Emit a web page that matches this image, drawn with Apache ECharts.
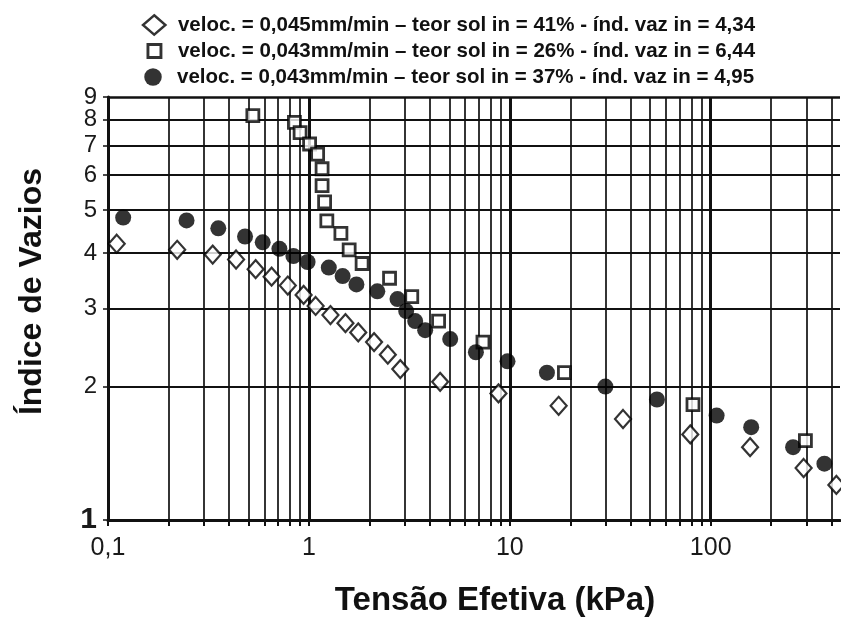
<!DOCTYPE html>
<html>
<head>
<meta charset="utf-8">
<script src="https://cdn.jsdelivr.net/npm/echarts@6/dist/echarts.min.js"></script>
<style>
  html, body { margin: 0; padding: 0; background: #fff; }
  #chart { width: 841px; height: 622px; }
</style>
</head>
<body>
<div id="chart"></div>
<script>
// Índice de vazios versus tensão efetiva (escala log-log)
const seriesNames = [
  'veloc. = 0,045mm/min – teor sol in = 41% - índ. vaz in = 4,34',
  'veloc. = 0,043mm/min – teor sol in = 26% - índ. vaz in = 6,44',
  'veloc. = 0,043mm/min – teor sol in = 37% - índ. vaz in = 4,95'
];

// Ensaio 1 (losangos)
const tensao1 = [0.1105, 0.221, 0.332, 0.434, 0.543, 0.652, 0.785, 0.941, 1.08, 1.28, 1.52, 1.76,
  2.11, 2.47, 2.85, 4.50, 8.78, 17.5, 36.6, 79.1, 157, 290, 422];
const vazios1 = [4.20, 4.07, 3.97, 3.87, 3.68, 3.54, 3.38, 3.22, 3.04, 2.90, 2.78, 2.65,
  2.52, 2.36, 2.19, 2.05, 1.93, 1.81, 1.69, 1.56, 1.46, 1.31, 1.20];

// Ensaio 2 (quadrados)
const tensao2 = [0.526, 0.847, 0.904, 1.008, 1.105, 1.163, 1.163, 1.197, 1.228, 1.443, 1.586, 1.84,
  2.52, 3.25, 4.42, 7.35, 18.7, 81.6, 296];
const vazios2 = [8.17, 7.89, 7.48, 7.05, 6.69, 6.20, 5.68, 5.22, 4.73, 4.43, 4.07, 3.79,
  3.51, 3.19, 2.81, 2.52, 2.15, 1.82, 1.51];

// Ensaio 3 (círculos)
const tensao3 = [0.119, 0.246, 0.354, 0.481, 0.589, 0.713, 0.837, 0.985, 1.256, 1.472, 1.724, 2.19,
  2.76, 3.05, 3.38, 3.79, 5.05, 6.78, 9.74, 15.3, 29.9, 54.0, 107, 159, 257, 368];
const vazios3 = [4.81, 4.74, 4.55, 4.36, 4.23, 4.09, 3.94, 3.82, 3.71, 3.55, 3.40, 3.28,
  3.15, 2.96, 2.81, 2.68, 2.56, 2.39, 2.28, 2.15, 2.00, 1.87, 1.72, 1.62, 1.46, 1.34];

// Rótulos do eixo vertical e linhas da grade
const yTicks = [1, 2, 3, 4, 5, 6, 7, 8, 9];
const xDecades = [0.1, 1, 10, 100];
const xMultipliers = [1, 2, 3, 4, 5, 6, 7, 8, 9];
const X_MIN = 0.1, X_MAX = 440;

const FONT = "'Liberation Sans', Arial, Helvetica, sans-serif";

const pairs = (xs, ys) => xs.map((x, i) => [x, ys[i]]);

// posições das divisões do eixo horizontal (1 a 9 em cada década)
const xGridValues = [];
xDecades.forEach(d => {
  xMultipliers.forEach(m => {
    const v = +(d * m).toPrecision(6);
    if (v >= X_MIN && v <= X_MAX) xGridValues.push({ v: v, major: m === 1 });
  });
});

// linhas verticais: décadas (grossas) e subdivisões (finas)
const vLines = xGridValues
  .filter(g => g.v > X_MIN)
  .map(g => ({
    xAxis: g.v,
    lineStyle: { width: g.major ? 3 : 1.7, color: '#111', type: 'solid' }
  }));

// linhas horizontais com os rótulos do eixo vertical
const hLines = yTicks.map(v => ({
  yAxis: v,
  lineStyle: { width: v === 1 ? 3 : (v === 9 ? 2.6 : 1.9), color: '#111', type: 'solid' },
  label: {
    show: true,
    position: 'start',
    distance: 11,
    formatter: String(v),
    fontFamily: FONT,
    fontSize: v === 1 ? 30 : 24,
    fontWeight: v === 1 ? 'bold' : 'normal',
    color: '#1a1a1a'
  }
}));

// uma legenda por ensaio, cada uma com o tamanho do seu marcador
const legendRow = (name, icon, w, h, top, textPad, itemStyle) => ({
  orient: 'vertical',
  left: 153 - w / 2,
  top: top,
  padding: 0,
  itemWidth: w,
  itemHeight: h,
  selectedMode: false,
  icon: icon,
  itemStyle: itemStyle,
  textStyle: {
    fontFamily: FONT, fontSize: 20.5, fontWeight: 'bold', color: '#111',
    lineHeight: 22, padding: [0, 0, 0, textPad]
  },
  data: [{ name: name, icon: icon, itemStyle: itemStyle }]
});

const chart = echarts.init(document.getElementById('chart'), null, { renderer: 'canvas' });

chart.setOption({
  backgroundColor: '#fff',
  animation: false,
  textStyle: { fontFamily: FONT },
  legend: [
    legendRow(seriesNames[0], 'diamond', 22.5, 19.5, 14, 7.5,
      { color: '#fff', borderColor: '#000', borderWidth: 2.4 }),
    legendRow(seriesNames[1], 'rect', 13, 13, 40, 12,
      { color: '#fff', borderColor: '#000', borderWidth: 2.9 }),
    legendRow(seriesNames[2], 'circle', 17.5, 17.5, 66, 10.25,
      { color: '#000', borderColor: '#000', borderWidth: 0 })
  ],
  grid: { left: 108, right: 1, top: 97, bottom: 94 },
  xAxis: {
    type: 'log',
    logBase: 10,
    min: X_MIN,
    max: X_MAX,
    name: 'Tensão Efetiva (kPa)',
    nameLocation: 'middle',
    nameGap: 64,
    nameTextStyle: { fontFamily: FONT, fontSize: 33, fontWeight: 'bold', color: '#111', padding: [0, 0, 0, 42] },
    axisLine: { show: true, lineStyle: { color: '#111', width: 3 } },
    axisTick: {
      show: true, length: 6,
      customValues: xGridValues.map(g => g.v),
      lineStyle: { color: '#111', width: 2 }
    },
    splitLine: { show: false },
    axisLabel: {
      fontFamily: FONT,
      fontSize: 25,
      color: '#1a1a1a',
      margin: 16,
      customValues: xDecades,
      formatter: v => String(+(+v).toPrecision(6)).replace('.', ',')
    }
  },
  yAxis: {
    type: 'log',
    logBase: 10,
    min: 1,
    max: 9,
    name: 'Índice de Vazios',
    nameLocation: 'middle',
    nameRotate: 90,
    nameGap: 60,
    nameTextStyle: { fontFamily: FONT, fontSize: 32, fontWeight: 'bold', color: '#111', padding: [0, 0, 0, 34] },
    axisLine: { show: true, lineStyle: { color: '#111', width: 3 } },
    axisTick: { show: true, length: 5, customValues: yTicks, lineStyle: { color: '#111', width: 1.5 } },
    axisLabel: { show: false },
    splitLine: { show: false }
  },
  series: [
    {
      name: 'grade',
      type: 'scatter',
      data: [],
      silent: true,
      markLine: {
        silent: true,
        z: 1,
        symbol: 'none',
        animation: false,
        label: { show: false },
        emphasis: { disabled: true },
        data: vLines.concat(hLines)
      }
    },
    {
      name: seriesNames[0],
      type: 'scatter',
      z: 5,
      symbol: 'diamond',
      symbolSize: [16, 18],
      itemStyle: { color: '#fff', borderColor: '#000', borderWidth: 2.2 },
      data: pairs(tensao1, vazios1)
    },
    {
      name: seriesNames[1],
      type: 'scatter',
      z: 5,
      symbol: 'rect',
      symbolSize: 12,
      itemStyle: { color: '#fff', borderColor: '#000', borderWidth: 2.8 },
      data: pairs(tensao2, vazios2)
    },
    {
      name: seriesNames[2],
      type: 'scatter',
      z: 6,
      symbol: 'circle',
      symbolSize: 16,
      itemStyle: { color: '#000' },
      data: pairs(tensao3, vazios3)
    }
  ]
});
</script>
</body>
</html>
